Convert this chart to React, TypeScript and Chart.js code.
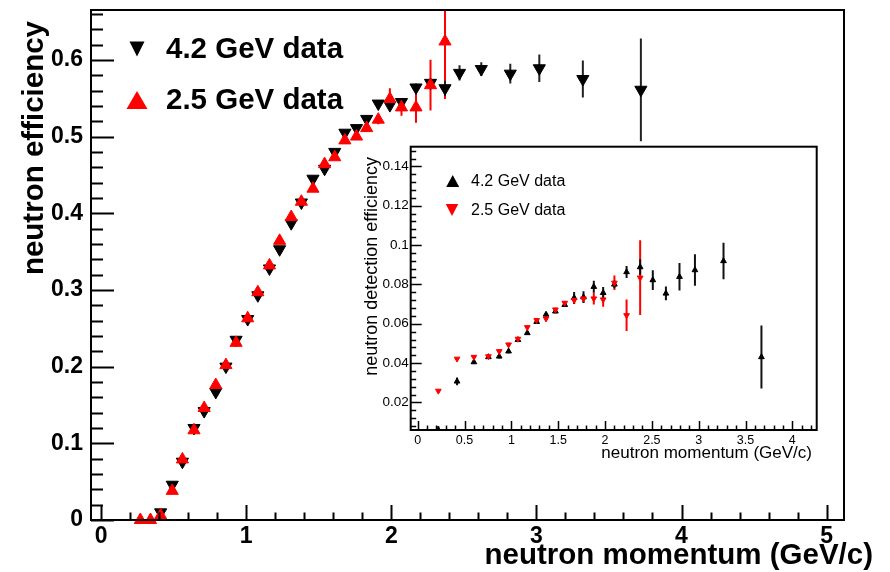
import React, { useEffect, useRef } from "react";
import { Chart, registerables } from "chart.js";

Chart.register(...registerables);

// ---------- main plot data ----------
const main42X = [0.41, 0.49, 0.56, 0.64, 0.71, 0.79, 0.86, 0.93, 1.01, 1.08, 1.16, 1.23, 1.31, 1.38, 1.46, 1.54, 1.61, 1.68, 1.76, 1.83, 1.91, 1.99, 2.07, 2.17, 2.27, 2.37, 2.47, 2.62, 2.82, 3.02, 3.32, 3.72];
const main42Y = [0.010, 0.046, 0.076, 0.120, 0.142, 0.167, 0.200, 0.235, 0.262, 0.293, 0.328, 0.353, 0.387, 0.414, 0.445, 0.458, 0.480, 0.505, 0.511, 0.523, 0.543, 0.541, 0.545, 0.564, 0.570, 0.563, 0.583, 0.588, 0.582, 0.589, 0.575, 0.561];
const main42Err = [0.002, 0.002, 0.002, 0.002, 0.002, 0.002, 0.002, 0.002, 0.002, 0.002, 0.002, 0.002, 0.002, 0.002, 0.002, 0.002, 0.002, 0.003, 0.003, 0.003, 0.003, 0.004, 0.005, 0.005, 0.006, 0.010, 0.010, 0.009, 0.013, 0.018, 0.024, 0.067];

const main25X = [0.27, 0.34, 0.41, 0.49, 0.56, 0.64, 0.71, 0.79, 0.86, 0.93, 1.01, 1.08, 1.16, 1.23, 1.31, 1.38, 1.46, 1.54, 1.61, 1.68, 1.76, 1.83, 1.91, 1.99, 2.07, 2.17, 2.27, 2.37];
const main25Y = [0.0, 0.0, 0.006, 0.038, 0.079, 0.117, 0.146, 0.176, 0.202, 0.231, 0.263, 0.297, 0.332, 0.364, 0.395, 0.415, 0.432, 0.464, 0.473, 0.495, 0.500, 0.511, 0.522, 0.549, 0.538, 0.538, 0.567, 0.624];
const main25Err = [0.0, 0.0, 0.002, 0.002, 0.002, 0.002, 0.002, 0.002, 0.002, 0.002, 0.002, 0.002, 0.002, 0.002, 0.002, 0.002, 0.003, 0.003, 0.003, 0.003, 0.004, 0.005, 0.006, 0.014, 0.011, 0.020, 0.033, 0.075];

const mainXTicks = [0, 1, 2, 3, 4, 5];
const mainYTicks = [0, 0.1, 0.2, 0.3, 0.4, 0.5, 0.6];
const mainLegend = ["4.2 GeV data", "2.5 GeV data"];
const mainXTitle = "neutron momentum (GeV/c)";
const mainYTitle = "neutron efficiency";

// ---------- inset data ----------
const inset42X = [0.22, 0.42, 0.60, 0.755, 0.87, 0.97, 1.07, 1.17, 1.27, 1.37, 1.47, 1.57, 1.67, 1.77, 1.88, 1.98, 2.10, 2.23, 2.375, 2.51, 2.65, 2.795, 2.96, 3.265, 3.67];
const inset42Y = [0.006, 0.0307, 0.0405, 0.0431, 0.0434, 0.0460, 0.0518, 0.0553, 0.0610, 0.0647, 0.0663, 0.0696, 0.0732, 0.0735, 0.0788, 0.0757, 0.0800, 0.0863, 0.0888, 0.0822, 0.0754, 0.0839, 0.0873, 0.0919, 0.0431];
const inset42Err = [0.002, 0.002, 0.001, 0.001, 0.001, 0.001, 0.001, 0.001, 0.001, 0.001, 0.001, 0.001, 0.003, 0.003, 0.003, 0.003, 0.002, 0.003, 0.004, 0.005, 0.0035, 0.007, 0.008, 0.0093, 0.016];

const inset25X = [0.22, 0.42, 0.60, 0.755, 0.87, 0.97, 1.07, 1.17, 1.27, 1.37, 1.47, 1.57, 1.67, 1.77, 1.88, 1.98, 2.10, 2.23, 2.375];
const inset25Y = [0.0259, 0.0422, 0.0431, 0.0434, 0.0460, 0.0494, 0.0523, 0.0582, 0.0618, 0.0626, 0.0672, 0.0706, 0.0720, 0.0728, 0.0728, 0.0723, 0.0808, 0.0643, 0.0834];
const inset25Err = [0.0005, 0.0005, 0.0008, 0.0008, 0.001, 0.001, 0.001, 0.001, 0.001, 0.001, 0.001, 0.001, 0.002, 0.002, 0.003, 0.0037, 0.0037, 0.008, 0.019];

const insetXTicks = [0, 0.5, 1, 1.5, 2, 2.5, 3, 3.5, 4];
const insetYTicks = [0.02, 0.04, 0.06, 0.08, 0.1, 0.12, 0.14];
const insetLegend = ["4.2 GeV data", "2.5 GeV data"];
const insetXTitle = "neutron momentum (GeV/c)";
const insetYTitle = "neutron detection efficiency";

const FONT = '"Liberation Sans", Arial, Helvetica, sans-serif';
const RED = "#ff0000";
const BLACK = "#000000";

const fmt = (v: number) => String(parseFloat(Number(v).toFixed(3)));
const pts = (xs: number[], ys: number[]) => xs.map((x, i) => ({ x, y: ys[i] }));

function tri(ctx: CanvasRenderingContext2D, cx: number, cy: number, w: number, h: number, up: boolean, color: string) {
  ctx.save();
  ctx.fillStyle = color;
  ctx.beginPath();
  if (up) {
    ctx.moveTo(cx, cy - h / 2);
    ctx.lineTo(cx + w / 2, cy + h / 2);
    ctx.lineTo(cx - w / 2, cy + h / 2);
  } else {
    ctx.moveTo(cx, cy + h / 2);
    ctx.lineTo(cx + w / 2, cy - h / 2);
    ctx.lineTo(cx - w / 2, cy - h / 2);
  }
  ctx.closePath();
  ctx.fill();
  ctx.restore();
}

function drawAxisTicks(chart: any, xMinorStep: number, yMinorStep: number, xMaj: number[], yMaj: number[], lens: { xM: number; xm: number; yM: number; ym: number }, lw: number) {
  const ctx = chart.ctx as CanvasRenderingContext2D;
  const a = chart.chartArea;
  const xs = chart.scales.x;
  const ys = chart.scales.y;
  ctx.save();
  ctx.strokeStyle = "#000";
  ctx.lineWidth = lw;
  ctx.beginPath();
  const x0 = Math.ceil(xs.min / xMinorStep) * xMinorStep;
  for (let v = x0; v <= xs.max + 1e-9; v += xMinorStep) {
    const p = Math.round(xs.getPixelForValue(v)) + 0.5;
    ctx.moveTo(p, a.bottom);
    ctx.lineTo(p, a.bottom - lens.xm);
  }
  for (const v of xMaj) {
    const p = Math.round(xs.getPixelForValue(v)) + 0.5;
    ctx.moveTo(p, a.bottom);
    ctx.lineTo(p, a.bottom - lens.xM);
  }
  const y0 = Math.ceil(ys.min / yMinorStep) * yMinorStep;
  for (let v = y0; v <= ys.max + 1e-9; v += yMinorStep) {
    const p = Math.round(ys.getPixelForValue(v)) + 0.5;
    ctx.moveTo(a.left, p);
    ctx.lineTo(a.left + lens.ym, p);
  }
  for (const v of yMaj) {
    const p = Math.round(ys.getPixelForValue(v)) + 0.5;
    ctx.moveTo(a.left, p);
    ctx.lineTo(a.left + lens.yM, p);
  }
  ctx.stroke();
  ctx.restore();
}

function drawErrors(chart: any, errs: number[][], colors: string[], lw: number) {
  const ctx = chart.ctx as CanvasRenderingContext2D;
  const a = chart.chartArea;
  const ys = chart.scales.y;
  const xs = chart.scales.x;
  ctx.save();
  ctx.beginPath();
  ctx.rect(a.left, a.top, a.right - a.left, a.bottom - a.top);
  ctx.clip();
  chart.data.datasets.forEach((ds: any, di: number) => {
    const e = errs[di];
    ctx.strokeStyle = colors[di];
    ctx.lineWidth = lw;
    ctx.beginPath();
    ds.data.forEach((p: any, i: number) => {
      if (!e[i]) return;
      const px = xs.getPixelForValue(p.x);
      ctx.moveTo(px, ys.getPixelForValue(p.y - e[i]));
      ctx.lineTo(px, ys.getPixelForValue(p.y + e[i]));
    });
    ctx.stroke();
  });
  ctx.restore();
}

const mainPlugin = {
  id: "mainDeco",
  beforeDatasetsDraw(chart: any) {
    drawErrors(chart, [main25Err, main42Err], [RED, "#222"], 2);
  },
  afterDraw(chart: any) {
    const ctx = chart.ctx as CanvasRenderingContext2D;
    const a = chart.chartArea;
    drawAxisTicks(chart, 0.2, 0.02, mainXTicks, mainYTicks, { xM: 15, xm: 7.5, yM: 23, ym: 12 }, 2);
    ctx.save();
    ctx.strokeStyle = "#000";
    ctx.lineWidth = 2;
    ctx.strokeRect(a.left, a.top, a.right - a.left, a.bottom - a.top);
    // legend
    tri(ctx, 137, 49, 15, 15, false, BLACK);
    tri(ctx, 137, 100, 21, 18, true, RED);
    ctx.fillStyle = "#000";
    ctx.font = `bold 29.5px ${FONT}`;
    ctx.textAlign = "left";
    ctx.textBaseline = "middle";
    ctx.fillText(mainLegend[0], 166, 50);
    ctx.fillText(mainLegend[1], 166, 101);
    // titles
    ctx.font = `bold 29.5px ${FONT}`;
    ctx.textAlign = "right";
    ctx.fillText(mainXTitle, 873, 556);
    ctx.translate(35, 21);
    ctx.rotate(-Math.PI / 2);
    ctx.fillText(mainYTitle, 0, 0);
    ctx.restore();
  },
};

const insetPlugin = {
  id: "insetDeco",
  beforeDatasetsDraw(chart: any) {
    drawErrors(chart, [inset25Err, inset42Err], [RED, "#111"], 2);
  },
  afterDraw(chart: any) {
    const ctx = chart.ctx as CanvasRenderingContext2D;
    const a = chart.chartArea;
    drawAxisTicks(chart, 0.1, 0.004, insetXTicks, insetYTicks, { xM: 9, xm: 4.5, yM: 11, ym: 5.5 }, 1.5);
    ctx.save();
    ctx.strokeStyle = "#000";
    ctx.lineWidth = 2;
    ctx.strokeRect(a.left, a.top, a.right - a.left, a.bottom - a.top);
    // legend
    tri(ctx, 97.7, 41, 13, 12, true, BLACK);
    tri(ctx, 97, 70, 12.5, 12, false, RED);
    ctx.fillStyle = "#000";
    ctx.font = `16px ${FONT}`;
    ctx.textAlign = "left";
    ctx.textBaseline = "middle";
    ctx.fillText(insetLegend[0], 116, 42);
    ctx.fillText(insetLegend[1], 116, 71);
    // titles
    ctx.font = `17px ${FONT}`;
    ctx.textAlign = "right";
    ctx.fillText(insetXTitle, 457, 313);
    ctx.font = `18px ${FONT}`;
    ctx.translate(17, 17);
    ctx.rotate(-Math.PI / 2);
    ctx.fillText(insetYTitle, 0, 0);
    ctx.restore();
  },
};

const noPad = (axis: any) => {
  axis.paddingTop = 0;
  axis.paddingBottom = 0;
  axis.paddingLeft = 0;
  axis.paddingRight = 0;
};

function mainConfig(): any {
  return {
    type: "scatter",
    data: {
      datasets: [
        { label: mainLegend[1], data: pts(main25X, main25Y), pointStyle: "triangle", rotation: 0, pointRadius: 7, backgroundColor: RED, borderColor: RED, borderWidth: 1, order: 0, clip: false },
        { label: mainLegend[0], data: pts(main42X, main42Y), pointStyle: "triangle", rotation: 180, pointRadius: 7, backgroundColor: BLACK, borderColor: BLACK, borderWidth: 1, order: 1, clip: false },
      ],
    },
    options: {
      animation: false,
      responsive: false,
      devicePixelRatio: 1,
      events: [],
      layout: { padding: { left: 0, top: 10, right: 46, bottom: 0 } },
      plugins: { legend: { display: false }, tooltip: { enabled: false } },
      scales: {
        x: {
          type: "linear",
          min: -0.07,
          max: 5.12,
          grid: { display: false, drawTicks: false },
          border: { display: false },
          afterBuildTicks: (axis: any) => { axis.ticks = mainXTicks.map((v) => ({ value: v })); },
          afterFit: (axis: any) => { axis.height = 52; noPad(axis); },
          ticks: { callback: (v: any) => fmt(v), padding: 3, maxRotation: 0, autoSkip: false, color: "#000", font: { family: FONT, size: 23, weight: "bold" } },
        },
        y: {
          type: "linear",
          min: 0,
          max: 0.665,
          grid: { display: false, drawTicks: false },
          border: { display: false },
          afterBuildTicks: (axis: any) => { axis.ticks = mainYTicks.map((v) => ({ value: v })); },
          afterFit: (axis: any) => { axis.width = 91; noPad(axis); },
          ticks: { callback: (v: any) => fmt(v), padding: 8, autoSkip: false, color: "#000", font: { family: FONT, size: 23, weight: "bold" } },
        },
      },
    },
    plugins: [mainPlugin],
  };
}

function insetConfig(): any {
  return {
    type: "scatter",
    data: {
      datasets: [
        { label: insetLegend[1], data: pts(inset25X, inset25Y), pointStyle: "triangle", rotation: 180, pointRadius: 3.3, backgroundColor: RED, borderColor: RED, borderWidth: 1, order: 0 },
        { label: insetLegend[0], data: pts(inset42X, inset42Y), pointStyle: "triangle", rotation: 0, pointRadius: 3.3, backgroundColor: BLACK, borderColor: BLACK, borderWidth: 1, order: 1 },
      ],
    },
    options: {
      animation: false,
      responsive: false,
      devicePixelRatio: 1,
      events: [],
      layout: { padding: { left: 0, top: 6.7, right: 8.3, bottom: 0 } },
      plugins: { legend: { display: false }, tooltip: { enabled: false } },
      scales: {
        x: {
          type: "linear",
          min: -0.075,
          max: 4.26,
          grid: { display: false, drawTicks: false },
          border: { display: false },
          afterBuildTicks: (axis: any) => { axis.ticks = insetXTicks.map((v) => ({ value: v })); },
          afterFit: (axis: any) => { axis.height = 40; noPad(axis); },
          ticks: { callback: (v: any) => fmt(v), padding: 3, maxRotation: 0, autoSkip: false, color: "#000", font: { family: FONT, size: 12.5 } },
        },
        y: {
          type: "linear",
          min: 0.006,
          max: 0.150,
          grid: { display: false, drawTicks: false },
          border: { display: false },
          afterBuildTicks: (axis: any) => { axis.ticks = insetYTicks.map((v) => ({ value: v })); },
          afterFit: (axis: any) => { axis.width = 55.7; noPad(axis); },
          ticks: { callback: (v: any) => fmt(v), padding: 2, autoSkip: false, color: "#000", font: { family: FONT, size: 13.5 } },
        },
      },
    },
    plugins: [insetPlugin],
  };
}

export default function App() {
  const mainRef = useRef<HTMLCanvasElement>(null);
  const insetRef = useRef<HTMLCanvasElement>(null);
  useEffect(() => {
    const c1 = new Chart(mainRef.current as HTMLCanvasElement, mainConfig());
    const c2 = new Chart(insetRef.current as HTMLCanvasElement, insetConfig());
    return () => {
      c1.destroy();
      c2.destroy();
    };
  }, []);
  return (
    <div style={{ position: "absolute", left: 0, top: 0, width: 890, height: 572, background: "#fff", overflow: "hidden" }}>
      <canvas ref={mainRef} width={890} height={572} style={{ position: "absolute", left: 0, top: 0, width: 890, height: 572 }} />
      <canvas ref={insetRef} width={470} height={330} style={{ position: "absolute", left: 355, top: 140, width: 470, height: 330 }} />
    </div>
  );
}
